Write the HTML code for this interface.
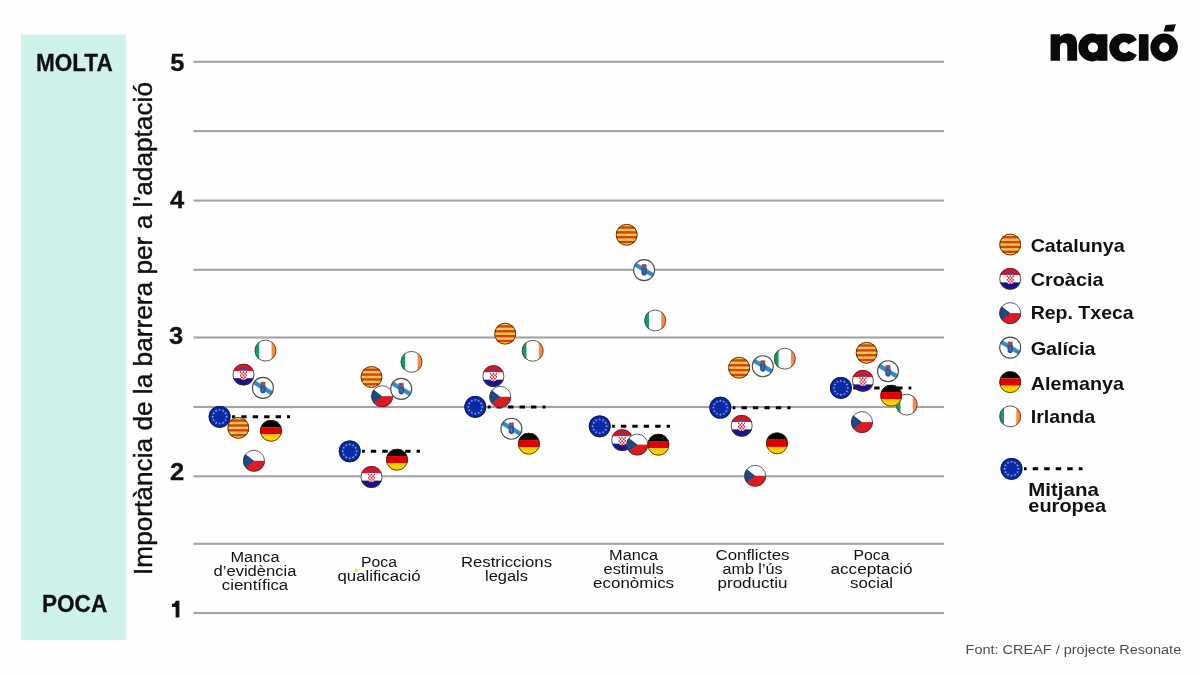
<!DOCTYPE html>
<html><head><meta charset="utf-8"><title>chart</title>
<style>html,body{margin:0;padding:0;background:#fff}svg{display:block}text{font-family:"Liberation Sans",sans-serif}</style>
</head><body>
<svg width="1200" height="675" viewBox="0 0 1200 675">
<defs>
<clipPath id="cc"><circle r="10.9"/></clipPath>
<g id="cat"><g clip-path="url(#cc)"><rect x="-11" y="-11" width="22" height="22" fill="#fbc946"/>
<g fill="#d2411a"><rect x="-11" y="-8.478" width="22" height="2.422"/><rect x="-11" y="-3.633" width="22" height="2.422"/><rect x="-11" y="1.211" width="22" height="2.422"/><rect x="-11" y="6.056" width="22" height="2.422"/></g></g>
<circle r="10.450000000000001" fill="none" stroke="#5a3208" stroke-width="0.95"/></g>

<g id="cro"><g clip-path="url(#cc)"><rect x="-11" y="-11" width="22" height="7.4" fill="#e8101c"/><rect x="-11" y="-3.6" width="22" height="7.2" fill="#fff"/><rect x="-11" y="3.6" width="22" height="7.4" fill="#17158a"/>
<path d="M-3.7 -4 H3.7 V2.6 C3.7 4.2 2 5 0 5.2 C-2 5 -3.7 4.2 -3.7 2.6 Z" fill="#fff"/>
<clipPath id="sh"><path d="M-3.7 -4 H3.7 V2.6 C3.7 4.2 2 5 0 5.2 C-2 5 -3.7 4.2 -3.7 2.6 Z"/></clipPath>
<g fill="#e3202a" clip-path="url(#sh)"><rect x="-3.80" y="-3.40" width="1.52" height="1.72"/><rect x="-0.76" y="-3.40" width="1.52" height="1.72"/><rect x="2.28" y="-3.40" width="1.52" height="1.72"/><rect x="-2.28" y="-1.68" width="1.52" height="1.72"/><rect x="0.76" y="-1.68" width="1.52" height="1.72"/><rect x="-3.80" y="0.04" width="1.52" height="1.72"/><rect x="-0.76" y="0.04" width="1.52" height="1.72"/><rect x="2.28" y="0.04" width="1.52" height="1.72"/><rect x="-2.28" y="1.76" width="1.52" height="1.72"/><rect x="0.76" y="1.76" width="1.52" height="1.72"/><rect x="-3.80" y="3.48" width="1.52" height="1.72"/><rect x="-0.76" y="3.48" width="1.52" height="1.72"/><rect x="2.28" y="3.48" width="1.52" height="1.72"/></g>
<path d="M-3.7 -4.2 L-4 -6.1 L-2.5 -6.7 L-1.2 -5.9 L0 -6.8 L1.2 -5.9 L2.5 -6.7 L4 -6.1 L3.7 -4.2 Z" fill="#3f4a98"/>
</g><circle r="10.5" fill="none" stroke="#3a3040" stroke-width="0.85"/></g>

<g id="cze"><g clip-path="url(#cc)"><rect x="-11" y="-11" width="22" height="11" fill="#fff"/><rect x="-11" y="0" width="22" height="11" fill="#dc1a22"/><path d="M-14 -11 L0 0 L-14 11 Z" fill="#1c4a86"/></g>
<circle r="10.5" fill="none" stroke="#44343a" stroke-width="0.8"/></g>

<g id="gal"><g clip-path="url(#cc)"><rect x="-11" y="-11" width="22" height="22" fill="#fff"/>
<rect x="-14" y="-3" width="28" height="5.4" fill="#cfeefa" transform="rotate(31)"/>
<rect x="-14" y="-2.3" width="28" height="4.1" fill="#338cc2" transform="rotate(31)"/>
<path d="M-2.7 -2.6 H2.7 V2.8 C2.7 4.5 1.3 5.3 0 5.6 C-1.3 5.3 -2.7 4.5 -2.7 2.8 Z" fill="#2b55a0"/><rect x="-0.5" y="-0.6" width="1" height="3.8" fill="#5f86c8"/><path d="M-2.3 -2.4 L-2.6 -5.4 L-1 -6.4 L0 -5.6 L1 -6.4 L2.6 -5.4 L2.3 -2.4 Z" fill="#94504c"/></g>
<circle r="10.5" fill="none" stroke="#4a4c4c" stroke-width="1.1"/></g>

<g id="ger"><g clip-path="url(#cc)"><rect x="-11" y="-11" width="22" height="7.4" fill="#000"/><rect x="-11" y="-3.65" width="22" height="7.3" fill="#e20000"/><rect x="-11" y="3.63" width="22" height="7.4" fill="#ffd000"/></g>
<circle r="10.5" fill="none" stroke="#352800" stroke-width="0.8"/></g>

<g id="irl"><g clip-path="url(#cc)"><rect x="-11" y="-11" width="5" height="22" fill="#169b62"/><rect x="-6.05" y="-11" width="12.1" height="22" fill="#fff"/><rect x="6.05" y="-11" width="5" height="22" fill="#ff883e"/></g>
<circle r="10.450000000000001" fill="none" stroke="#4c4a44" stroke-width="0.9"/></g>

<g id="eu"><circle r="10.9" fill="#0a2aa6"/><circle r="10.3" fill="none" stroke="#0a1c74" stroke-width="1.2"/><g fill="#8fa8da"><polygon points="0.00,-8.35 0.35,-7.39 1.38,-7.35 0.57,-6.71 0.85,-5.73 0.00,-6.30 -0.85,-5.73 -0.57,-6.71 -1.38,-7.35 -0.35,-7.39"/><polygon points="3.45,-7.43 3.80,-6.46 4.83,-6.42 4.02,-5.79 4.30,-4.80 3.45,-5.38 2.60,-4.80 2.88,-5.79 2.07,-6.42 3.10,-6.46"/><polygon points="5.98,-4.90 6.33,-3.94 7.35,-3.90 6.55,-3.26 6.83,-2.28 5.98,-2.85 5.12,-2.28 5.40,-3.26 4.60,-3.90 5.62,-3.94"/><polygon points="6.90,-1.45 7.25,-0.49 8.28,-0.45 7.47,0.19 7.75,1.17 6.90,0.60 6.05,1.17 6.33,0.19 5.52,-0.45 6.55,-0.49"/><polygon points="5.98,2.00 6.33,2.96 7.35,3.00 6.55,3.64 6.83,4.62 5.98,4.05 5.12,4.62 5.40,3.64 4.60,3.00 5.62,2.96"/><polygon points="3.45,4.53 3.80,5.49 4.83,5.53 4.02,6.16 4.30,7.15 3.45,6.58 2.60,7.15 2.88,6.16 2.07,5.53 3.10,5.49"/><polygon points="0.00,5.45 0.35,6.41 1.38,6.45 0.57,7.09 0.85,8.07 0.00,7.50 -0.85,8.07 -0.57,7.09 -1.38,6.45 -0.35,6.41"/><polygon points="-3.45,4.53 -3.10,5.49 -2.07,5.53 -2.88,6.16 -2.60,7.15 -3.45,6.58 -4.30,7.15 -4.02,6.16 -4.83,5.53 -3.80,5.49"/><polygon points="-5.98,2.00 -5.62,2.96 -4.60,3.00 -5.40,3.64 -5.12,4.62 -5.98,4.05 -6.83,4.62 -6.55,3.64 -7.35,3.00 -6.33,2.96"/><polygon points="-6.90,-1.45 -6.55,-0.49 -5.52,-0.45 -6.33,0.19 -6.05,1.17 -6.90,0.60 -7.75,1.17 -7.47,0.19 -8.28,-0.45 -7.25,-0.49"/><polygon points="-5.98,-4.90 -5.62,-3.94 -4.60,-3.90 -5.40,-3.26 -5.12,-2.28 -5.98,-2.85 -6.83,-2.28 -6.55,-3.26 -7.35,-3.90 -6.33,-3.94"/><polygon points="-3.45,-7.43 -3.10,-6.46 -2.07,-6.42 -2.88,-5.79 -2.60,-4.80 -3.45,-5.38 -4.30,-4.80 -4.02,-5.79 -4.83,-6.42 -3.80,-6.46"/></g></g>
</defs>
<rect width="1200" height="675" fill="#fefefe"/>
<g opacity="0.999"><rect x="21" y="34.5" width="105" height="605.7" fill="#cef1ea"/><rect x="193.5" y="60.75" width="750.6" height="2.1" fill="#a4a4a4"/><rect x="193.5" y="130.05" width="750.6" height="2.1" fill="#a4a4a4"/><rect x="193.5" y="199.55" width="750.6" height="2.1" fill="#a4a4a4"/><rect x="193.5" y="268.75" width="750.6" height="2.1" fill="#a4a4a4"/><rect x="193.5" y="336.45" width="750.6" height="2.1" fill="#a4a4a4"/><rect x="193.5" y="405.95" width="750.6" height="2.1" fill="#a4a4a4"/><rect x="193.5" y="475.25" width="750.6" height="2.1" fill="#a4a4a4"/><rect x="193.5" y="542.75" width="750.6" height="2.1" fill="#a4a4a4"/><rect x="193.5" y="611.95" width="750.6" height="2.1" fill="#a4a4a4"/><text x="170.20000000000002" y="71.2" font-size="23" font-weight="700" text-anchor="start" fill="#111" textLength="14.2" lengthAdjust="spacingAndGlyphs" stroke="#111" stroke-width="0.3">5</text><text x="169.9" y="207.9" font-size="23" font-weight="700" text-anchor="start" fill="#111" textLength="14.2" lengthAdjust="spacingAndGlyphs" stroke="#111" stroke-width="0.3">4</text><text x="169.1" y="343.5" font-size="23" font-weight="700" text-anchor="start" fill="#111" textLength="14.2" lengthAdjust="spacingAndGlyphs" stroke="#111" stroke-width="0.3">3</text><text x="169.9" y="479.6" font-size="23" font-weight="700" text-anchor="start" fill="#111" textLength="14.2" lengthAdjust="spacingAndGlyphs" stroke="#111" stroke-width="0.3">2</text><path d="M175.6 600.7 H179.4 V617.6 H175.6 V607 H171.9 V603.8 C174.2 603.8 175.6 602.8 175.6 600.7 Z" fill="#111"/><text x="36" y="70.8" font-size="23" font-weight="700" text-anchor="start" fill="#111" textLength="76.7" lengthAdjust="spacingAndGlyphs" stroke="#111" stroke-width="0.3">MOLTA</text><text x="42" y="611.8" font-size="23.6" font-weight="700" text-anchor="start" fill="#111" textLength="65.2" lengthAdjust="spacingAndGlyphs" stroke="#111" stroke-width="0.3">POCA</text><text transform="translate(152,575) rotate(-90)" font-size="26" fill="#111" stroke="#111" stroke-width="0.4" textLength="493" lengthAdjust="spacingAndGlyphs">Importància de la barrera per a l’adaptació</text><text x="230.5" y="562.4" font-size="14" font-weight="400" text-anchor="start" fill="#111" textLength="49" lengthAdjust="spacingAndGlyphs">Manca</text><text x="213.6" y="576.4" font-size="14" font-weight="400" text-anchor="start" fill="#111" textLength="82.8" lengthAdjust="spacingAndGlyphs">d’evidència</text><text x="221.8" y="590" font-size="14" font-weight="400" text-anchor="start" fill="#111" textLength="66.4" lengthAdjust="spacingAndGlyphs">científica</text><text x="361.0" y="567.4" font-size="14" font-weight="400" text-anchor="start" fill="#111" textLength="36" lengthAdjust="spacingAndGlyphs">Poca</text><text x="337.5" y="581.4" font-size="14" font-weight="400" text-anchor="start" fill="#111" textLength="83" lengthAdjust="spacingAndGlyphs">qualificació</text><text x="461.0" y="566.5" font-size="14" font-weight="400" text-anchor="start" fill="#111" textLength="91" lengthAdjust="spacingAndGlyphs">Restriccions</text><text x="485.0" y="580.5" font-size="14" font-weight="400" text-anchor="start" fill="#111" textLength="43" lengthAdjust="spacingAndGlyphs">legals</text><text x="609.1" y="560" font-size="14" font-weight="400" text-anchor="start" fill="#111" textLength="49" lengthAdjust="spacingAndGlyphs">Manca</text><text x="603.6" y="573.9" font-size="14" font-weight="400" text-anchor="start" fill="#111" textLength="60" lengthAdjust="spacingAndGlyphs">estimuls</text><text x="593.1" y="587.7" font-size="14" font-weight="400" text-anchor="start" fill="#111" textLength="81" lengthAdjust="spacingAndGlyphs">econòmics</text><text x="715.5" y="560" font-size="14" font-weight="400" text-anchor="start" fill="#111" textLength="74" lengthAdjust="spacingAndGlyphs">Conflictes</text><text x="722.5" y="573.9" font-size="14" font-weight="400" text-anchor="start" fill="#111" textLength="60" lengthAdjust="spacingAndGlyphs">amb l’ús</text><text x="717.5" y="587.7" font-size="14" font-weight="400" text-anchor="start" fill="#111" textLength="70" lengthAdjust="spacingAndGlyphs">productiu</text><text x="853.5" y="560" font-size="14" font-weight="400" text-anchor="start" fill="#111" textLength="36" lengthAdjust="spacingAndGlyphs">Poca</text><text x="830.5" y="573.9" font-size="14" font-weight="400" text-anchor="start" fill="#111" textLength="82" lengthAdjust="spacingAndGlyphs">acceptació</text><text x="850.0" y="587.7" font-size="14" font-weight="400" text-anchor="start" fill="#111" textLength="43" lengthAdjust="spacingAndGlyphs">social</text><circle cx="356.4" cy="570.4" r="1.8" fill="#d2ec50"/><line x1="232.00" y1="416.8" x2="290" y2="416.8" stroke="#000" stroke-width="3" stroke-dasharray="5.4 6.05" stroke-dashoffset="2.20"/><use href="#irl" x="265.5" y="350.6"/><use href="#cat" x="238.3" y="427.9"/><use href="#cro" x="243.5" y="374.6"/><use href="#cze" x="254" y="460.8"/><use href="#gal" x="262.9" y="387.9"/><use href="#ger" x="271" y="430.8"/><use href="#eu" x="219.6" y="416.8"/><line x1="362.10" y1="451.3" x2="420" y2="451.3" stroke="#000" stroke-width="3" stroke-dasharray="5.4 6.05" stroke-dashoffset="2.75"/><use href="#irl" x="411.5" y="361.9"/><use href="#cat" x="371.5" y="377"/><use href="#cro" x="371.5" y="477"/><use href="#cze" x="382.2" y="396.2"/><use href="#gal" x="401.2" y="388.9"/><use href="#ger" x="397" y="459.7"/><use href="#eu" x="349.7" y="451.3"/><line x1="487.70" y1="406.9" x2="545.5" y2="406.9" stroke="#000" stroke-width="3" stroke-dasharray="5.4 6.05" stroke-dashoffset="2.50"/><use href="#irl" x="532.7" y="350.8"/><use href="#cat" x="505.2" y="333.7"/><use href="#cro" x="493.4" y="376.1"/><use href="#cze" x="500.3" y="396.8"/><use href="#gal" x="511.4" y="428.7"/><use href="#ger" x="528.9" y="443.7"/><use href="#eu" x="475.3" y="406.9"/><line x1="612.10" y1="426.3" x2="670" y2="426.3" stroke="#000" stroke-width="3" stroke-dasharray="5.4 6.05" stroke-dashoffset="2.70"/><use href="#irl" x="655.2" y="320.5"/><use href="#cat" x="626.7" y="234.8"/><use href="#cro" x="622.2" y="440.1"/><use href="#cze" x="637.3" y="444.6"/><use href="#gal" x="644.1" y="270.1"/><use href="#ger" x="658.4" y="444.7"/><use href="#eu" x="599.7" y="426.3"/><line x1="732.75" y1="407.7" x2="790.5" y2="407.7" stroke="#000" stroke-width="3" stroke-dasharray="5.4 6.05" stroke-dashoffset="2.75"/><use href="#irl" x="784.8" y="358.7"/><use href="#cat" x="739.1" y="367.7"/><use href="#cro" x="741.7" y="425.8"/><use href="#cze" x="755.2" y="475.8"/><use href="#gal" x="762.8" y="366.3"/><use href="#ger" x="777" y="443.3"/><use href="#eu" x="720.35" y="407.7"/><line x1="853.30" y1="387.9" x2="911.3" y2="387.9" stroke="#000" stroke-width="3" stroke-dasharray="5.4 6.05" stroke-dashoffset="2.00"/><use href="#irl" x="906.7" y="404.6"/><use href="#cat" x="866.6" y="352.8"/><use href="#cro" x="862.9" y="380.8"/><use href="#cze" x="862" y="422.1"/><use href="#gal" x="888" y="371.2"/><use href="#ger" x="891.2" y="395.7"/><use href="#eu" x="840.9" y="387.9"/><use href="#cat" x="1010.2" y="244.55"/><text x="1030.7" y="251.9" font-size="18.2" font-weight="700" text-anchor="start" fill="#111" textLength="93.9" lengthAdjust="spacingAndGlyphs">Catalunya</text><use href="#cro" x="1010.2" y="278.8"/><text x="1030.7" y="285.8" font-size="18.2" font-weight="700" text-anchor="start" fill="#111" textLength="72.8" lengthAdjust="spacingAndGlyphs">Croàcia</text><use href="#cze" x="1010.2" y="313.1"/><text x="1030.7" y="318.6" font-size="18.2" font-weight="700" text-anchor="start" fill="#111" textLength="103" lengthAdjust="spacingAndGlyphs">Rep. Txeca</text><use href="#gal" x="1010.2" y="347.6"/><text x="1030.7" y="355.25" font-size="18.2" font-weight="700" text-anchor="start" fill="#111" textLength="64.9" lengthAdjust="spacingAndGlyphs">Galícia</text><use href="#ger" x="1010.2" y="382.1"/><text x="1030.7" y="389.5" font-size="18.2" font-weight="700" text-anchor="start" fill="#111" textLength="93.2" lengthAdjust="spacingAndGlyphs">Alemanya</text><use href="#irl" x="1010.2" y="416.4"/><text x="1030.7" y="422.9" font-size="18.2" font-weight="700" text-anchor="start" fill="#111" textLength="64.4" lengthAdjust="spacingAndGlyphs">Irlanda</text><line x1="1024" y1="468.8" x2="1082.5" y2="468.8" stroke="#000" stroke-width="3" stroke-dasharray="5.5 6" stroke-dashoffset="2.8"/><use href="#eu" x="1011.5" y="468.8"/><text x="1028.3" y="495.5" font-size="17.8" font-weight="700" text-anchor="start" fill="#111" textLength="70.5" lengthAdjust="spacingAndGlyphs">Mitjana</text><text x="1028.3" y="512.1" font-size="17.8" font-weight="700" text-anchor="start" fill="#111" textLength="77.7" lengthAdjust="spacingAndGlyphs">europea</text><text x="965.6" y="654" font-size="13.7" font-weight="400" text-anchor="start" fill="#4d4d4d" textLength="215.6" lengthAdjust="spacingAndGlyphs">Font: CREAF / projecte Resonate</text><g fill="#0a0a0a">
<path d="M1050.6 60.8 V34.2 H1060 V36.6 C1062 34.6 1064.8 33.5 1067.8 33.5 C1073.8 33.5 1077.1 37.6 1077.1 44 V60.8 H1067.3 V46.4 C1067.3 44 1066 42.8 1063.9 42.8 C1061.5 42.8 1060 44.3 1060 46.8 V60.8 Z"/>
<path fill-rule="evenodd" d="M1092.3 33.5 A13.95 13.95 0 1 0 1092.3 61.4 A13.95 13.95 0 1 0 1092.3 33.5 Z M1093 42.6 A5 5 0 1 1 1093 52.6 A5 5 0 1 1 1093 42.6 Z"/>
<rect x="1098" y="34.2" width="9.4" height="26.6"/>
<path d="M1123.5 33.5 C1127.5 33.5 1131 34.2 1133.5 35.4 L1137 40 L1128.5 44.3 A5.3 5.3 0 1 0 1128.5 50.9 L1137 55.1 L1133.1 60.1 C1130.5 61 1127.5 61.4 1123.5 61.4 C1115.6 61.4 1109.2 55.2 1109.2 47.4 C1109.2 39.7 1115.6 33.5 1123.5 33.5 Z"/>
<rect x="1138.9" y="34.2" width="9.6" height="26.6"/>
<path fill-rule="evenodd" d="M1164.15 33.5 A13.75 13.95 0 1 0 1164.15 61.4 A13.75 13.95 0 1 0 1164.15 33.5 Z M1164.2 42.5 A5 5.1 0 1 1 1164.2 52.7 A5 5.1 0 1 1 1164.2 42.5 Z"/>
<polygon points="1165.5,25 1175.9,24.3 1173.6,31.4 1163.7,31.4"/>
</g>
</g>
</svg>
</body></html>
